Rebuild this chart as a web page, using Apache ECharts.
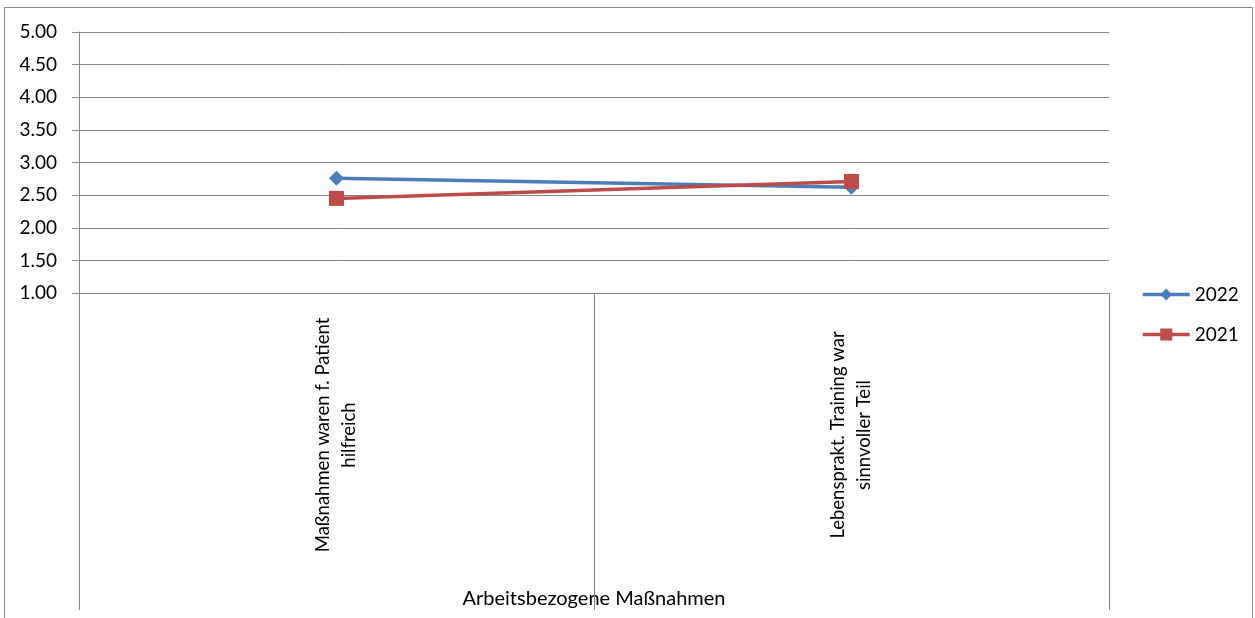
<!DOCTYPE html>
<html>
<head>
<meta charset="utf-8">
<script src="https://cdn.jsdelivr.net/npm/echarts@6/dist/echarts.min.js"></script>
<style>
  html, body { margin: 0; padding: 0; background: #fff; }
  #chart { width: 1255px; height: 618px; }
</style>
</head>
<body>
<div id="chart"></div>
<script>
// data
const categories = ['Maßnahmen waren f. Patient\nhilfreich', 'Lebensprakt. Training war\nsinnvoller Teil'];
const groupLabel = 'Arbeitsbezogene Maßnahmen';
const values2022 = [2.76, 2.62];
const values2021 = [2.45, 2.71];
const seriesNames = ['2022', '2021'];

const axisGrey = '#868686';
const font = 'Lato, "Open Sans", sans-serif';

const chart = echarts.init(document.getElementById('chart'));

chart.setOption({
  animation: false,
  textStyle: { fontFamily: font, color: '#000' },
  graphic: [{
    type: 'rect',
    shape: { x: 4.5, y: 7.5, width: 1248, height: 660 },
    style: { fill: 'none', stroke: axisGrey, lineWidth: 1 },
    silent: true
  }],
  grid: { left: 79, top: 32, width: 1030, height: 261, containLabel: false, outerBoundsMode: 'none' },
  legend: {
    orient: 'vertical',
    left: 1136,
    top: 280,
    itemWidth: 47,
    itemHeight: 15,
    itemGap: 21,
    lineStyle: { width: 3.5 },
    textStyle: { fontFamily: font, fontSize: 19, color: '#000' },
    data: seriesNames
  },
  xAxis: {
    type: 'category',
    data: categories,
    boundaryGap: true,
    axisLine: { show: true, lineStyle: { color: axisGrey, width: 1 } },
    axisTick: { show: true, interval: 0, length: 317, lineStyle: { color: axisGrey, width: 1 } },
    axisLabel: {
      interval: 0,
      rotate: 90,
      align: 'center',
      verticalAlign: 'middle',
      margin: 142,
      fontFamily: font,
      fontSize: 18.5,
      lineHeight: 26,
      color: '#000'
    },
    name: groupLabel,
    nameLocation: 'middle',
    nameGap: 296,
    nameTextStyle: { fontFamily: font, fontSize: 20, color: '#000' },
    splitLine: { show: false }
  },
  yAxis: {
    type: 'value',
    min: 1,
    max: 5,
    interval: 0.5,
    axisLine: { show: true, lineStyle: { color: axisGrey, width: 1 } },
    axisTick: { show: true, length: 7, lineStyle: { color: axisGrey, width: 1 } },
    axisLabel: {
      margin: 22,
      fontFamily: font,
      fontSize: 19,
      color: '#000',
      formatter: v => v.toFixed(2)
    },
    splitLine: { show: true, lineStyle: { color: axisGrey, width: 1 } }
  },
  series: [
    {
      name: seriesNames[0],
      type: 'line',
      data: values2022,
      symbol: 'diamond',
      symbolSize: 15,
      itemStyle: { color: '#4A7EBB' },
      lineStyle: { color: '#4A7EBB', width: 3.5 }
    },
    {
      name: seriesNames[1],
      type: 'line',
      data: values2021,
      symbol: 'rect',
      symbolSize: 15,
      itemStyle: { color: '#BE4B48' },
      lineStyle: { color: '#BE4B48', width: 3.5 }
    }
  ]
});
</script>
</body>
</html>
